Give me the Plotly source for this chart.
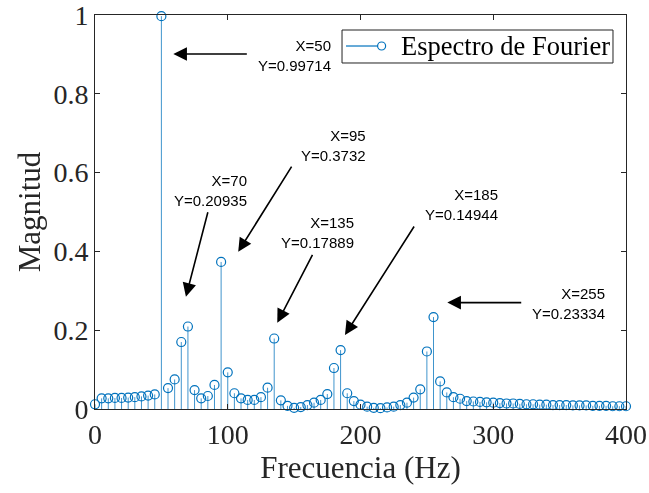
import plotly.graph_objects as go

freq = list(range(0, 405, 5))
magnitud = [
    0.012, 0.027, 0.027, 0.028, 0.028, 0.029, 0.030, 0.032, 0.034, 0.037,
    0.99714, 0.053, 0.075, 0.170, 0.20935, 0.048, 0.027, 0.033, 0.061, 0.3732,
    0.093, 0.040, 0.027, 0.023, 0.023, 0.030, 0.054, 0.17889, 0.022, 0.008,
    0.003, 0.005, 0.010, 0.016, 0.023, 0.038, 0.104, 0.14944, 0.040, 0.020,
    0.011, 0.006, 0.003, 0.002, 0.004, 0.006, 0.010, 0.016, 0.029, 0.050,
    0.146, 0.23334, 0.070, 0.042, 0.030, 0.026,
    0.020, 0.019, 0.018, 0.017, 0.016, 0.015, 0.014, 0.014, 0.013, 0.012,
    0.012, 0.011, 0.011, 0.010, 0.010, 0.010, 0.009, 0.009, 0.009, 0.008,
    0.008, 0.008, 0.007, 0.007, 0.007,
]
legend_label = "Espectro de Fourier"

# annotated peaks
peak_x = [50, 70, 95, 135, 185, 255]
peak_y = [0.99714, 0.20935, 0.3732, 0.17889, 0.14944, 0.23334]
tip_x = [59.0, 68.5, 107.9, 137.3, 188.3, 265.4]
tip_y = [0.901, 0.285, 0.399, 0.219, 0.188, 0.270]
tail_x = [115.5, 85.3, 148.8, 164.4, 241.1, 322.2]
tail_y = [0.901, 0.503, 0.619, 0.395, 0.467, 0.270]
text_x = [179.1, 116.2, 205.9, 196.6, 305.1, 385.9]
text_y = [0.898, 0.554, 0.669, 0.4475, 0.519, 0.268]

BLUE = "#0072BD"
AX = "#262626"

sx, sy = [], []
for f, m in zip(freq, magnitud):
    sx += [f, f, None]
    sy += [0, m, None]

fig = go.Figure()
fig.add_trace(go.Scatter(x=sx, y=sy, mode="lines", line=dict(color=BLUE, width=1),
                         opacity=0.75, showlegend=False, hoverinfo="skip", cliponaxis=False))
fig.add_trace(go.Scatter(x=freq, y=magnitud, mode="markers", name=legend_label,
                         marker=dict(symbol="circle-open", size=9, color=BLUE, line=dict(width=1.2)),
                         showlegend=False, cliponaxis=False))

annotations = []
for i in range(len(peak_x)):
    annotations.append(dict(
        x=tip_x[i], y=tip_y[i], ax=tail_x[i], ay=tail_y[i], xref="x", yref="y",
        axref="x", ayref="y", text="", showarrow=True, arrowhead=2, arrowsize=1.7,
        arrowwidth=1.6, arrowcolor="black"))
    annotations.append(dict(
        x=text_x[i], y=text_y[i], xref="x", yref="y", xanchor="right", yanchor="middle",
        align="right", showarrow=False,
        text=f"X={peak_x[i]}<br>Y={peak_y[i]}",
        font=dict(family="Liberation Sans", size=15, color="black")))

# legend drawn as box + symbol + text
annotations.append(dict(x=0.5725, y=0.9213, xref="paper", yref="paper", xanchor="left",
                        yanchor="middle", showarrow=False, text=legend_label,
                        font=dict(family="Liberation Serif", size=26.5, color="black")))
shapes = [
    dict(type="rect", xref="paper", yref="paper", x0=0.4652, x1=0.9755, y0=0.8782, y1=0.9619,
         line=dict(color="#222222", width=1), fillcolor="white", layer="above"),
    dict(type="line", xref="paper", yref="paper", x0=0.4727, x1=0.5322, y0=0.9213, y1=0.9213,
         line=dict(color=BLUE, width=1.2), layer="above"),
    dict(type="circle", xref="paper", yref="paper", x0=0.5322, x1=0.5473, y0=0.9112, y1=0.9315,
         line=dict(color=BLUE, width=1.2), fillcolor="rgba(0,0,0,0)", layer="above"),
]

fig.update_layout(
    width=649, height=493,
    margin=dict(l=95, r=23, t=15, b=84, autoexpand=False),
    paper_bgcolor="white", plot_bgcolor="white",
    font=dict(family="Liberation Serif", color=AX),
    annotations=annotations, shapes=shapes, showlegend=False,
    xaxis=dict(range=[0, 400], tickvals=[0, 100, 200, 300, 400], automargin=False,
               ticks="inside", ticklen=5, tickcolor=AX, showline=True, linecolor=AX,
               linewidth=1, mirror="ticks", showgrid=False, zeroline=False,
               ticklabeloverflow="allow",
               tickfont=dict(size=28, color=AX),
               title=dict(text="Frecuencia (Hz)", font=dict(size=31, color=AX), standoff=2)),
    yaxis=dict(range=[0, 1], tickvals=[0, 0.2, 0.4, 0.6, 0.8, 1], automargin=False,
               ticktext=["0", "0.2", "0.4", "0.6", "0.8", "1"],
               ticks="inside", ticklen=5, tickcolor=AX, showline=True, linecolor=AX,
               linewidth=1, mirror="ticks", showgrid=False, zeroline=False,
               ticklabeloverflow="allow",
               tickfont=dict(size=28, color=AX),
               title=dict(text="Magnitud", font=dict(size=31, color=AX), standoff=3)),
)

fig.write_html("out.html")
